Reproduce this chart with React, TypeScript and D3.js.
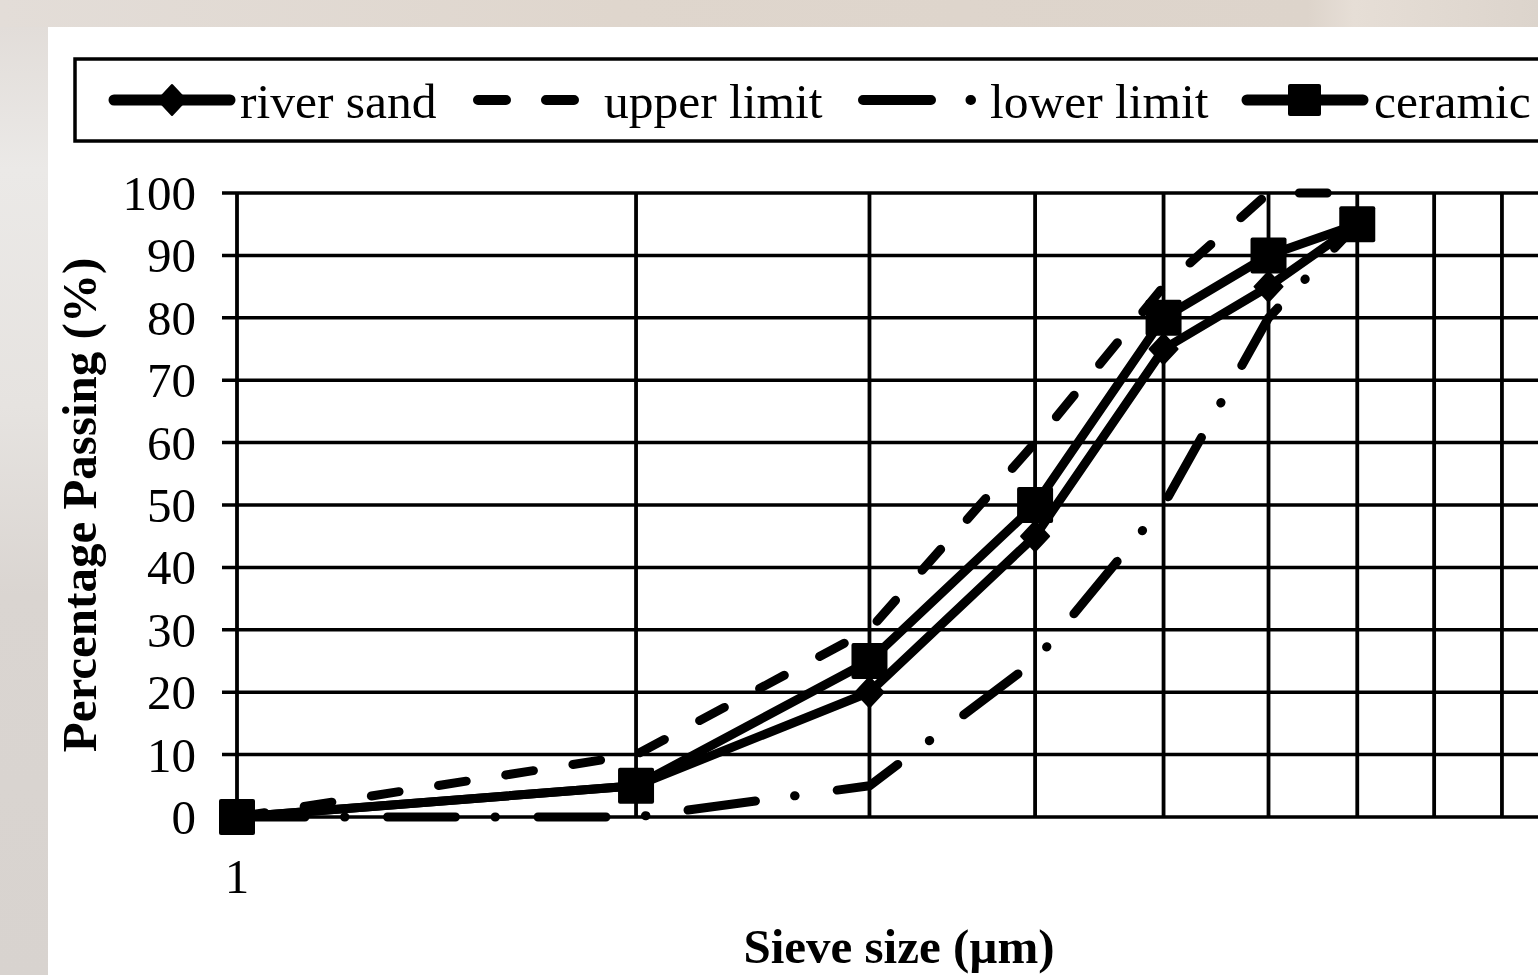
import React from "react";
import * as d3 from "d3";

// ---- data ----
const sieveSizes = [1, 2, 3, 4, 5, 6, 7];
const riverSand = [0, 5, 20, 45, 75, 85, 95];
const upperLimit = [0, 10, 30, 60, 85, 100, 100];
const lowerLimit = [0, 0, 5, 25, 50, 80, 95];
const ceramic = [0, 5, 25, 50, 80, 90, 95];
const yTicks = [0, 10, 20, 30, 40, 50, 60, 70, 80, 90, 100];
const xTickLabels = [1];
const legendLabels = ["river sand", "upper limit", "lower limit", "ceramic"];
const xTitle = "Sieve size (µm)";
const yTitle = "Percentage Passing (%)";

const W = 1538;
const H = 975;
const FONT = "'Liberation Serif', 'Times New Roman', Times, serif";

const x = d3.scaleLog().domain([1, 10]).range([237, 1562.6]);
const y = d3.scaleLinear().domain([0, 100]).range([817, 193]);

const line = d3
  .line<[number, number]>()
  .x((d) => x(d[0]))
  .y((d) => y(d[1]));

const pts = (vals: number[]) => sieveSizes.map((s, i) => [s, vals[i]] as [number, number]);

const UPPER_DASH = "28,40";
const LOWER_DASH = "68,39.5,0.5,42.5";
const LW = 9;

const diamond = (cx: number, cy: number, w: number, h: number) =>
  `M${cx},${cy - h / 2}L${cx + w / 2},${cy}L${cx},${cy + h / 2}L${cx - w / 2},${cy}Z`;

export default function App() {
  const xGrid = x.ticks().filter((t) => x(t) <= W + 40);
  return (
    <div style={{ position: "absolute", left: 0, top: 0 }}>
      <svg width={W} height={H} style={{ display: "block" }} fontFamily={FONT}>
        <defs>
          <linearGradient id="bgTop" x1="0" x2="1" y1="0" y2="0">
            <stop offset="0" stopColor="#e3ddd8" />
            <stop offset="0.4" stopColor="#dfd6cd" />
            <stop offset="0.85" stopColor="#ddd4cb" />
            <stop offset="0.88" stopColor="#e6ded6" />
            <stop offset="1" stopColor="#dcd4cc" />
          </linearGradient>
          <linearGradient id="bgLeft" x1="0" x2="0" y1="0" y2="1">
            <stop offset="0" stopColor="#e2ddd9" />
            <stop offset="0.15" stopColor="#ebe9e7" />
            <stop offset="0.4" stopColor="#e6e3e0" />
            <stop offset="0.6" stopColor="#dad5d1" />
            <stop offset="1" stopColor="#d8d3cf" />
          </linearGradient>
        </defs>
        <rect x={0} y={0} width={W} height={H} fill="url(#bgTop)" />
        <rect x={0} y={27} width={48} height={H - 27} fill="url(#bgLeft)" />
        <rect x={48} y={27} width={W - 48} height={H - 27} fill="#ffffff" />

        {/* legend */}
        <rect x={75} y={59} width={1500} height={82} fill="none" stroke="#000" strokeWidth={3.5} />
        <g>
          <line x1={114} x2={230} y1={100} y2={100} stroke="#000" strokeWidth={11} strokeLinecap="round" />
          <path d={diamond(172, 100, 28, 30)} fill="#000" stroke="#000" strokeWidth={2} strokeLinejoin="round" />
          <text x={240} y={118} fontSize={49.5} fill="#000">{legendLabels[0]}</text>

          <line x1={478} x2={582} y1={100} y2={100} stroke="#000" strokeWidth={10} strokeLinecap="round" strokeDasharray={UPPER_DASH} />
          <text x={604} y={118} fontSize={49.5} fill="#000">{legendLabels[1]}</text>

          <line x1={863} x2={975} y1={100} y2={100} stroke="#000" strokeWidth={10} strokeLinecap="round" strokeDasharray={LOWER_DASH} />
          <text x={990} y={118} fontSize={49.5} fill="#000">{legendLabels[2]}</text>

          <line x1={1247} x2={1363} y1={100} y2={100} stroke="#000" strokeWidth={11} strokeLinecap="round" />
          <rect x={1288} y={84} width={33} height={32} fill="#000" rx={2} />
          <text x={1374} y={118} fontSize={49.5} fill="#000">{legendLabels[3]}</text>
        </g>

        {/* gridlines */}
        {yTicks.map((t) => (
          <line key={"h" + t} x1={222} x2={W + 40} y1={y(t)} y2={y(t)} stroke="#000" strokeWidth={3.5} />
        ))}
        {xGrid.map((t) => (
          <line key={"v" + t} x1={x(t)} x2={x(t)} y1={y(100)} y2={y(0)} stroke="#000" strokeWidth={3.8} />
        ))}

        {/* y tick labels */}
        {yTicks.map((t) => (
          <text key={"yl" + t} x={196} y={y(t) + 17} fontSize={49} textAnchor="end" fill="#000">
            {t}
          </text>
        ))}
        {/* x tick labels */}
        {xTickLabels.map((t) => (
          <text key={"xl" + t} x={x(t)} y={893} fontSize={49} textAnchor="middle" fill="#000">
            {t}
          </text>
        ))}

        {/* axis titles */}
        <text x={899} y={963} fontSize={49} fontWeight="bold" textAnchor="middle" fill="#000">
          {xTitle}
        </text>
        <text
          transform={`translate(96, ${(y(0) + y(100)) / 2}) rotate(-90)`}
          fontSize={49}
          fontWeight="bold"
          textAnchor="middle"
          fill="#000"
        >
          {yTitle}
        </text>

        {/* series */}
        <path d={line(pts(upperLimit)) || ""} fill="none" stroke="#000" strokeWidth={LW} strokeLinecap="round" strokeLinejoin="round" strokeDasharray={UPPER_DASH} />
        <path d={line(pts(lowerLimit)) || ""} fill="none" stroke="#000" strokeWidth={LW} strokeLinecap="round" strokeLinejoin="round" strokeDasharray={LOWER_DASH} />
        <path d={line(pts(riverSand)) || ""} fill="none" stroke="#000" strokeWidth={LW} strokeLinejoin="round" />
        {pts(riverSand).map((p, i) => (
          <path key={"d" + i} d={diamond(x(p[0]), y(p[1]), 28, 30)} fill="#000" stroke="#000" strokeWidth={2} strokeLinejoin="round" />
        ))}
        <path d={line(pts(ceramic)) || ""} fill="none" stroke="#000" strokeWidth={LW} strokeLinejoin="round" />
        {pts(ceramic).map((p, i) => (
          <rect key={"s" + i} x={x(p[0]) - 18} y={y(p[1]) - 18} width={36} height={36} rx={2} fill="#000" />
        ))}
      </svg>
    </div>
  );
}
